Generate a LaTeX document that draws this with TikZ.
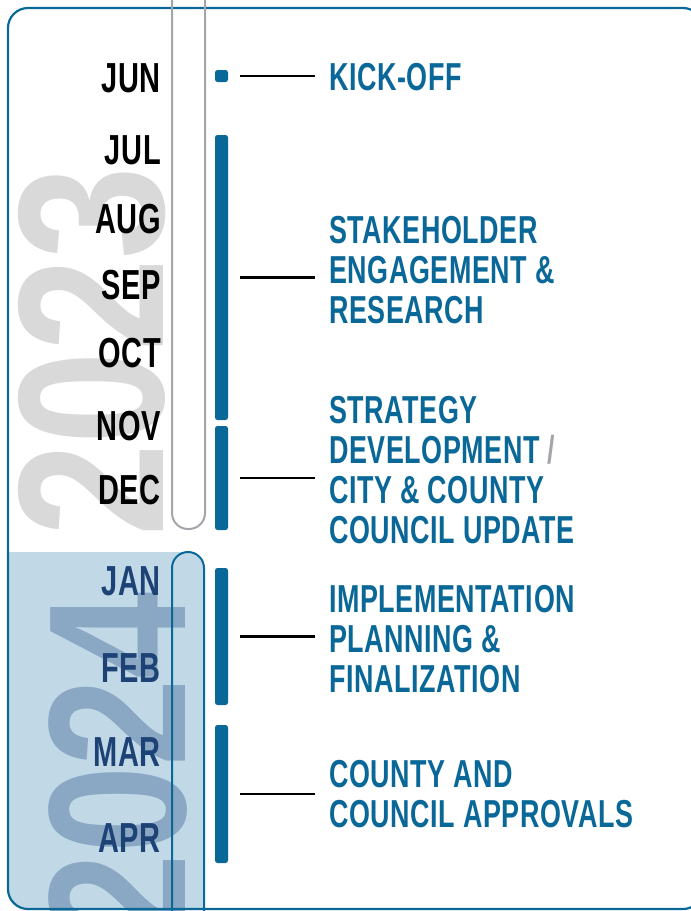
\documentclass[tikz,border=0pt]{standalone}
\usepackage{fontspec}
\setmainfont{Liberation Sans}
\newfontfamily\condfont[FakeStretch=0.69,LetterSpace=1.5]{Liberation Sans}
\newfontfamily\yrfont[FakeStretch=0.80]{Liberation Sans}
\definecolor{tlblue}{HTML}{0A6898}
\definecolor{navy}{HTML}{1D4275}
\definecolor{yrbg}{HTML}{C1D9E7}
\definecolor{yrtwo}{HTML}{8AA7C3}
\definecolor{yrone}{HTML}{D9D9D9}
\definecolor{pillgray}{HTML}{A2A6AA}
\begin{document}
\begin{tikzpicture}[x=1pt,y=-1pt,
  month/.style={anchor=east,inner sep=0pt,font=\condfont\bfseries\fontsize{42}{42}\selectfont},
  phase/.style={anchor=west,inner sep=0pt,align=left,text=tlblue,font=\condfont\bfseries\fontsize{39}{40}\selectfont},
  bar/.style={fill=tlblue,rounded corners=2.5pt,minimum width=13pt,inner sep=0pt},
  link/.style={line width=2.2pt,shorten <=12pt,shorten >=14pt},
  year/.style={rotate=90,inner sep=0pt}]
\useasboundingbox (0,0) rectangle (691,911);

% 2024 background
\begin{scope}
\clip[rounded corners=20pt] (8,8) rectangle (703,909);
\fill[yrbg] (8,552) rectangle (188,920);
\fill[yrbg,rounded corners=16pt] (172,552) rectangle (204,950);
\end{scope}

% years
\node[year,text=yrone,font=\yrfont\bfseries\fontsize{208}{208}\selectfont] (y23) at (92.5,351.5) {2023};
\node[year,anchor=east,text=yrtwo,font=\yrfont\bfseries\fontsize{196}{196}\selectfont] (y24) at (118,592) {2024};

% frame
\draw[tlblue,line width=2.2pt,rounded corners=20pt] (8,8) rectangle (703,909);

% year tracks
\draw[pillgray,line width=2pt,rounded corners=16pt] (172,-30) rectangle (205,529);
\draw[tlblue,line width=2pt,rounded corners=16pt] (172,552) rectangle (204,950);

% months
\node[month] (jun) at (161,78) {JUN};
\node[month] (jul) at (161,150.5) {JUL};
\node[month] (aug) at (161,219) {AUG};
\node[month] (sep) at (161,285) {SEP};
\node[month] (oct) at (161,353) {OCT};
\node[month] (nov) at (161,426) {NOV};
\node[month] (dec) at (161,490) {DEC};
\node[month,text=navy] (jan) at (161,581) {JAN};
\node[month,text=navy] (feb) at (161,668) {FEB};
\node[month,text=navy] (mar) at (161,752) {MAR};
\node[month,text=navy] (apr) at (161,838) {APR};

% phase bars
\node[bar,minimum height=12pt] (barK) at (221.5,76) {};
\node[bar,minimum height=285pt] (barS) at (221.5,277.5) {};
\node[bar,minimum height=104pt] (barD) at (221.5,478) {};
\node[bar,minimum height=137pt] (barI) at (221.5,636.5) {};
\node[bar,minimum height=138pt] (barA) at (221.5,794) {};

% phase labels
\node[phase] (kick) at (329,77) {KICK-OFF};
\node[phase] (stake) at (329,270) {STAKEHOLDER\\ENGAGEMENT \&\\RESEARCH};
\node[phase] (strat) at (329,470) {STRATEGY\\DEVELOPMENT \textcolor{pillgray}{/}\\CITY \& COUNTY\\COUNCIL UPDATE};
\node[phase] (impl) at (329,639) {IMPLEMENTATION\\PLANNING \&\\FINALIZATION};
\node[phase] (appr) at (329,794) {COUNTY AND\\COUNCIL APPROVALS};

\draw[link] (barK.east) -- (barK.east -| kick.west);
\draw[link] (barS.east) -- (barS.east -| stake.west);
\draw[link] (barD.east) -- (barD.east -| strat.west);
\draw[link] (barI.east) -- (barI.east -| impl.west);
\draw[link] (barA.east) -- (barA.east -| appr.west);
\end{tikzpicture}
\end{document}
